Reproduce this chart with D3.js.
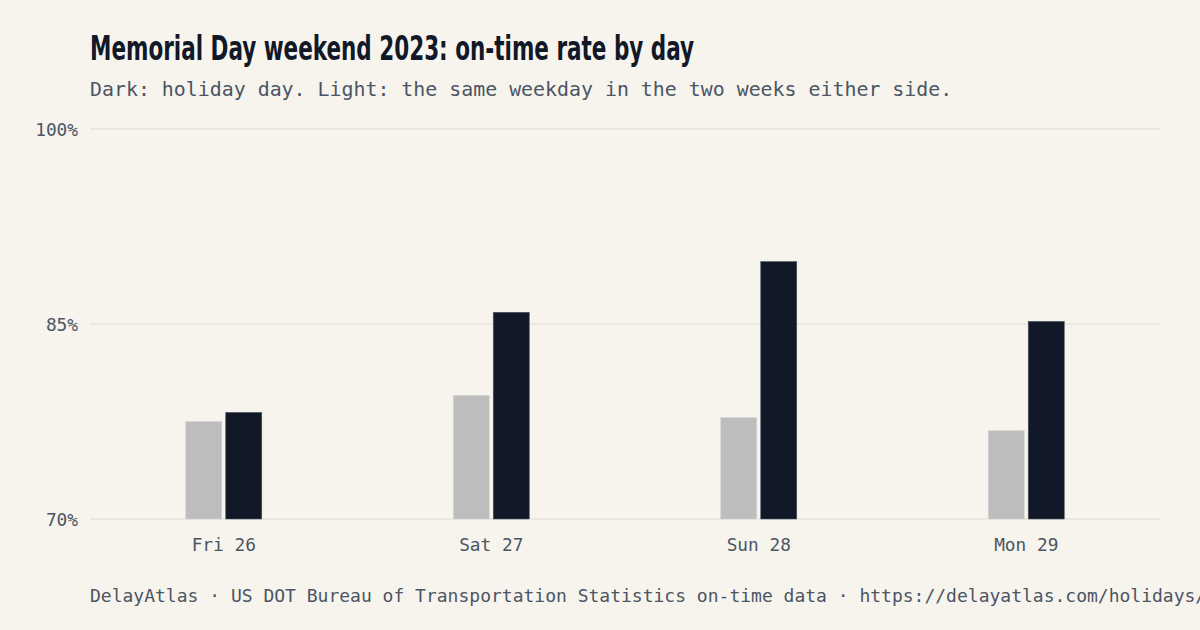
<!DOCTYPE html>
<html>
<head>
<meta charset="utf-8">
<script src="https://cdn.jsdelivr.net/npm/d3@7"></script>
<style>
  html, body { margin: 0; padding: 0; background: #f7f4ee; }
  svg { display: block; }
</style>
</head>
<body>
<svg id="chart" width="1200" height="630"></svg>
<script>
const categories = ["Fri 26", "Sat 27", "Sun 28", "Mon 29"];
const series = ["Nearby weeks", "Holiday"];
const nearbyValues = [77.5, 79.5, 77.8, 76.8];
const holidayValues = [78.2, 85.9, 89.8, 85.2];
const yTicks = [70, 85, 100];
const titleText = "Memorial Day weekend 2023: on-time rate by day";
const subtitleText = "Dark: holiday day. Light: the same weekday in the two weeks either side.";
const footerText = "DelayAtlas · US DOT Bureau of Transportation Statistics on-time data · https://delayatlas.com/holidays/";

const W = 1200, H = 630;
const margin = { left: 90, right: 40, top: 129, bottom: 111 };
const colors = { "Nearby weeks": "#bdbdbd", "Holiday": "#111827" };
const mono = "'DejaVu Sans Mono', 'Liberation Mono', monospace";
const textGrey = "#4b5563";

const svg = d3.select("#chart");
svg.append("rect").attr("width", W).attr("height", H).attr("fill", "#f7f4ee");

const x = d3.scaleBand().domain(categories).range([margin.left, W - margin.right]).padding(0);
const y = d3.scaleLinear().domain([70, 100]).range([H - margin.bottom, margin.top]);
const barW = 36, gap = 4;
const xSub = d3.scaleBand().domain(series)
  .range([-(barW + gap / 2), barW + gap / 2])
  .paddingInner(gap / (barW + gap));

// grid
svg.append("g").selectAll("line").data(yTicks).join("line")
  .attr("x1", margin.left).attr("x2", W - margin.right)
  .attr("y1", d => y(d)).attr("y2", d => y(d))
  .attr("stroke", "#e7e3dc").attr("stroke-width", 1.5);

// y axis labels
const yAxis = d3.axisLeft(y).tickValues(yTicks).tickSize(0).tickPadding(0)
  .tickFormat(d => d + "%");
const gy = svg.append("g").attr("transform", `translate(78,0)`).call(yAxis);
gy.select(".domain").remove();
gy.selectAll("text").attr("font-family", mono).attr("font-size", 17.8).attr("fill", textGrey).attr("dy", "0.35em");

// bars
const rows = categories.map((c, i) => ({ cat: c, vals: [
  { s: series[0], v: nearbyValues[i] },
  { s: series[1], v: holidayValues[i] }
]}));
const groups = svg.append("g").selectAll("g").data(rows).join("g")
  .attr("transform", d => `translate(${x(d.cat) + x.bandwidth() / 2},0)`);
groups.selectAll("rect").data(d => d.vals).join("rect")
  .attr("x", d => xSub(d.s))
  .attr("width", xSub.bandwidth())
  .attr("y", d => y(d.v))
  .attr("height", d => y(70) - y(d.v))
  .attr("fill", d => colors[d.s])
  .attr("stroke", d => d.s === "Holiday" ? "#4b5563" : "#d6d4d0")
  .attr("stroke-width", 0.6);

// x axis labels
const xAxis = d3.axisBottom(x).tickSize(0).tickPadding(0);
const gx = svg.append("g").attr("transform", `translate(0,${y(70)})`).call(xAxis);
gx.select(".domain").remove();
gx.selectAll("text").attr("font-family", mono).attr("font-size", 17.8).attr("fill", textGrey)
  .attr("y", 32).attr("dy", 0);

// title
svg.append("text").attr("x", 90).attr("y", 60)
  .attr("font-family", "'DejaVu Sans Condensed', 'Liberation Sans Narrow', sans-serif")
  .attr("font-weight", "bold").attr("font-size", 33).attr("fill", "#111827")
  .attr("textLength", 604).attr("lengthAdjust", "spacingAndGlyphs")
  .text(titleText);

// subtitle
svg.append("text").attr("x", 90).attr("y", 96)
  .attr("font-family", mono).attr("font-size", 19.9).attr("fill", textGrey)
  .text(subtitleText);

// footer
svg.append("text").attr("x", 90).attr("y", 602)
  .attr("font-family", mono).attr("font-size", 18).attr("fill", textGrey)
  .text(footerText);
</script>
</body>
</html>
